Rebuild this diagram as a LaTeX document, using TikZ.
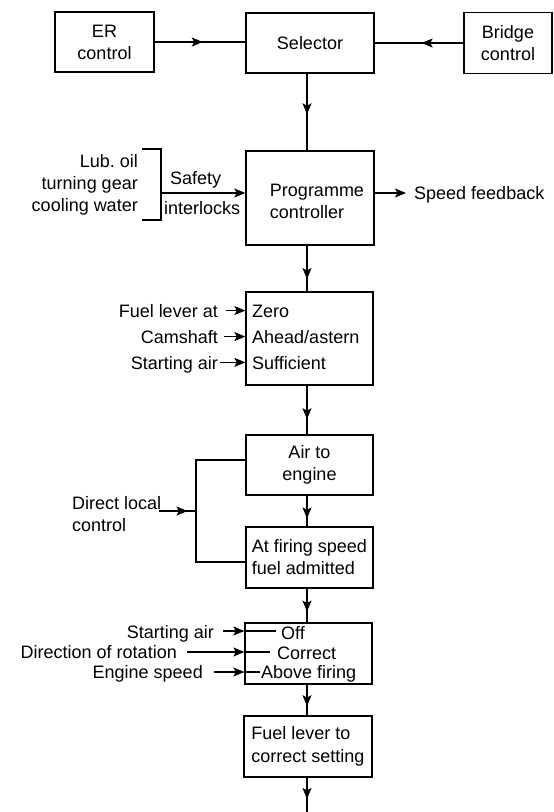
\documentclass[tikz,border=0pt]{standalone}
\usepackage{fontspec}
\setmainfont{Liberation Sans}
\usetikzlibrary{arrows.meta,decorations.markings}
\begin{document}
\begin{tikzpicture}[x=1pt,y=-1pt,
  font=\fontsize{18}{22}\selectfont,
  box/.style={draw, line width=1.3pt, inner sep=0pt, align=center},
  txt/.style={inner sep=0pt},
  conn/.style={line width=1.3pt},
  endarr/.style={-{Stealth[length=11pt,width=9pt,inset=2.5pt]}},
  midarr/.style={postaction={decorate}, decoration={markings, mark=at position #1 with {\arrow{Stealth[length=11pt,width=9pt,inset=2.5pt]}}}},
]
\fill[white] (0,0) rectangle (554,812);
\useasboundingbox (0,0) rectangle (554,812);

% boxes
\node[box, minimum width=99pt, minimum height=60pt] (er) at (104.5,42) {ER\\control};
\node[box, minimum width=128pt, minimum height=60pt] (sel) at (310,43) {Selector};
\node[box, minimum width=88pt, minimum height=61pt] (bridge) at (508,43) {Bridge\\control};
\node[box, minimum width=128pt, minimum height=94pt] (prog) at (310,198) {};
\node[txt, align=left] (progtxt) at (317,201) {Programme\\controller};
\node[box, minimum width=127pt, minimum height=93pt] (cond) at (309.5,338.5) {};
\node[box, minimum width=127pt, minimum height=60pt] (air) at (309.5,465) {Air to\\engine};
\node[box, minimum width=127pt, minimum height=61pt, align=left] (fire) at (309.5,557.5) {At firing speed\\fuel admitted};
\node[box, minimum width=127pt, minimum height=61pt] (chk) at (308.5,653.5) {};
\node[box, minimum width=128pt, minimum height=61pt, align=left] (fuel) at (308,746.5) {Fuel lever to\\[1pt]correct setting};

\coordinate (spx) at (307,0);
\coordinate (endpt) at (307,812);

% top row
\draw[conn, midarr=0.53] (er.east) -- (er.east -| sel.west);
\draw[conn, midarr=0.47] (bridge.west) -- (bridge.west -| sel.east);

% spine
\draw[conn, midarr=0.53] (spx |- sel.south) -- (spx |- prog.north);
\draw[conn, midarr=0.73] (spx |- prog.south) -- (spx |- cond.north);
\draw[conn, midarr=0.69] (spx |- cond.south) -- (spx |- air.north);
\draw[conn, midarr=0.74] (spx |- air.south) -- (spx |- fire.north);
\draw[conn, midarr=0.68] (spx |- fire.south) -- (spx |- chk.north);
\draw[conn, midarr=0.7] (spx |- chk.south) -- (spx |- fuel.north);
\draw[conn, midarr=0.62] (spx |- fuel.south) -- (endpt);

% safety interlocks
\node[txt, align=right, anchor=east] (inter) at (138,185) {Lub.\ oil\\turning gear\\cooling water};
\draw[conn] (142,149) -- (161,149) -- (161,220) -- (142,220);
\coordinate (brk) at (161,193);
\draw[conn, endarr] (brk) -- (brk -| prog.west);
\node[txt, anchor=base west] (safety) at (170,184) {Safety};
\node[txt, anchor=base west] (interl) at (164,214) {interlocks};

% speed feedback
\node[txt, anchor=base west] (speed) at (414,199) {Speed feedback};
\draw[conn, endarr, shorten >=8pt] (brk -| prog.east) -- (brk -| speed.west);

% conditions
\node[txt, anchor=base west] (zero) at (252,317) {Zero};
\node[txt, anchor=base west] (ahead) at (252,343) {Ahead/astern};
\node[txt, anchor=base west] (suff) at (252,369) {Sufficient};
\node[txt, anchor=base east] (fl) at (218,317) {Fuel lever at};
\node[txt, anchor=base east] (cam) at (218,343) {Camshaft};
\node[txt, anchor=base east] (sa) at (218,369) {Starting air};
\draw[conn, endarr] ([xshift=8pt]fl.east) -- (fl.east -| cond.west);
\draw[conn, endarr] ([xshift=6pt]cam.east) -- (cam.east -| cond.west);
\draw[conn, endarr] ([xshift=2pt,yshift=2pt]sa.east) -- ([yshift=2pt]sa.east -| cond.west);

% direct local control bypass
\coordinate (bt) at (196,460);
\coordinate (bb) at (196,562);
\draw[conn] (bt -| air.west) -- (bt) -- (bb) -- (bb -| fire.west);
\node[txt, align=left, anchor=west] (dl) at (72,514) {Direct local\\control};
\coordinate (dls) at (159,511);
\draw[conn, midarr=0.77] (dls) -- (dls -| bt);

% checks box
\node[txt, anchor=base west] (off) at (281,639) {Off};
\node[txt, anchor=base west] (corr) at (277,659) {Correct};
\node[txt, anchor=base west] (above) at (261,678) {Above firing};
\node[txt, anchor=base east] (sa2) at (214,638) {Starting air};
\node[txt, anchor=base east] (dir) at (177,658) {Direction of rotation};
\node[txt, anchor=base east] (es) at (203,678) {Engine speed};
\coordinate (y1) at (0,631);
\coordinate (y2) at (0,652);
\coordinate (y3) at (0,672);
\draw[conn, endarr] ([xshift=9pt]y1 -| sa2.east) -- (y1 -| chk.west);
\draw[conn] (y1 -| chk.west) -- ([xshift=-5pt]y1 -| off.west);
\draw[conn, endarr] ([xshift=10pt]y2 -| dir.east) -- (y2 -| chk.west);
\draw[conn] (y2 -| chk.west) -- ([xshift=-7pt]y2 -| corr.west);
\draw[conn, endarr] ([xshift=11pt]y3 -| es.east) -- (y3 -| chk.west);
\draw[conn] (y3 -| chk.west) -- ([xshift=-1pt]y3 -| above.west);
\end{tikzpicture}
\end{document}
